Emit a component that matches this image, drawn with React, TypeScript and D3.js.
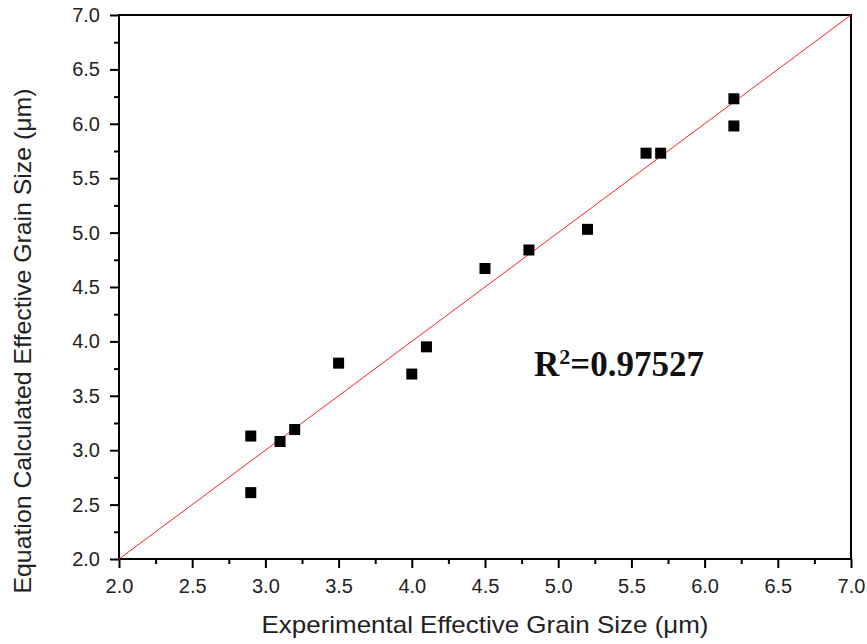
import React, { useEffect, useRef } from 'react';
import * as d3 from 'd3';

// experimental vs. equation calculated effective grain size (um)
const expSize = [2.9, 2.9, 3.1, 3.2, 3.5, 4.0, 4.1, 4.5, 4.8, 5.2, 5.6, 5.7, 6.2, 6.2];
const calcSize = [3.13, 2.61, 3.08, 3.19, 3.8, 3.7, 3.95, 4.67, 4.84, 5.03, 5.73, 5.73, 6.23, 5.98];
const fitLine = [2, 7];
const majorTicks = [2.0, 2.5, 3.0, 3.5, 4.0, 4.5, 5.0, 5.5, 6.0, 6.5, 7.0];

export default function App() {
  const ref = useRef<SVGSVGElement>(null);

  useEffect(() => {
    const w = 867, h = 644;
    const m = { top: 15, right: 16, bottom: 85, left: 119 };
    const svg = d3.select(ref.current).attr('width', w).attr('height', h);
    svg.selectAll('*').remove();

    const x = d3.scaleLinear().domain([2, 7]).range([m.left, w - m.right]);
    const y = d3.scaleLinear().domain([2, 7]).range([h - m.bottom, m.top]);
    const minor = d3.range(2.25, 7, 0.5);
    const font = 'Liberation Sans, Arial, sans-serif';

    // frame
    svg.append('rect')
      .attr('x', x(2)).attr('y', y(7))
      .attr('width', x(7) - x(2)).attr('height', y(2) - y(7))
      .attr('fill', 'none').attr('stroke', '#000').attr('stroke-width', 2);

    // bottom axis
    const gx = svg.append('g').attr('transform', `translate(0,${y(2)})`);
    gx.call(d3.axisBottom(x).tickValues(minor).tickSize(5).tickFormat(() => ''));
    gx.append('g').call(d3.axisBottom(x).tickValues(majorTicks).tickSize(9).tickPadding(11).tickFormat(d3.format('.1f')));
    gx.selectAll('.domain').remove();
    gx.selectAll('line').attr('stroke-width', 2);
    gx.selectAll('text').attr('font-family', font).attr('font-size', 20).attr('fill', '#222');

    // left axis
    const gy = svg.append('g').attr('transform', `translate(${x(2)},0)`);
    gy.call(d3.axisLeft(y).tickValues(minor).tickSize(5).tickFormat(() => ''));
    gy.append('g').call(d3.axisLeft(y).tickValues(majorTicks).tickSize(9).tickPadding(10).tickFormat(d3.format('.1f')));
    gy.selectAll('.domain').remove();
    gy.selectAll('line').attr('stroke-width', 2);
    gy.selectAll('text').attr('font-family', font).attr('font-size', 20).attr('fill', '#222');

    // axis titles
    svg.append('text')
      .attr('x', (x(2) + x(7)) / 2).attr('y', 633)
      .attr('text-anchor', 'middle').attr('font-family', font).attr('font-size', 24).attr('fill', '#222')
      .attr('textLength', 447).attr('lengthAdjust', 'spacingAndGlyphs')
      .text('Experimental Effective Grain Size (\u03bcm)');

    svg.append('text')
      .attr('transform', `translate(31,${(y(2) + y(7)) / 2 + 54}) rotate(-90)`)
      .attr('text-anchor', 'middle').attr('font-family', font).attr('font-size', 24).attr('fill', '#222')
      .attr('textLength', 505).attr('lengthAdjust', 'spacingAndGlyphs')
      .text('Equation Calculated Effective Grain Size (\u03bcm)');

    // y = x line
    svg.append('line')
      .attr('x1', x(fitLine[0])).attr('y1', y(fitLine[0]))
      .attr('x2', x(fitLine[1])).attr('y2', y(fitLine[1]))
      .attr('stroke', '#ff2020').attr('stroke-width', 1);

    // points
    const sq = 11;
    svg.selectAll('.pt')
      .data(expSize.map((d, i) => [d, calcSize[i]]))
      .enter().append('rect')
      .attr('x', d => x(d[0]) - sq / 2)
      .attr('y', d => y(d[1]) - sq / 2)
      .attr('width', sq).attr('height', sq)
      .attr('fill', '#000');

    // R^2 label
    const t = svg.append('text')
      .attr('x', 534).attr('y', 376)
      .attr('font-family', 'Liberation Serif, Times New Roman, serif')
      .attr('font-weight', 'bold').attr('font-size', 35).attr('fill', '#111');
    t.append('tspan').text('R');
    t.append('tspan').attr('font-size', 22).attr('dy', -12).text('2');
    t.append('tspan').attr('dy', 12).text('=0.97527');
  }, []);

  return <svg ref={ref} style={{ position: 'absolute', left: 0, top: 0 }}></svg>;
}
